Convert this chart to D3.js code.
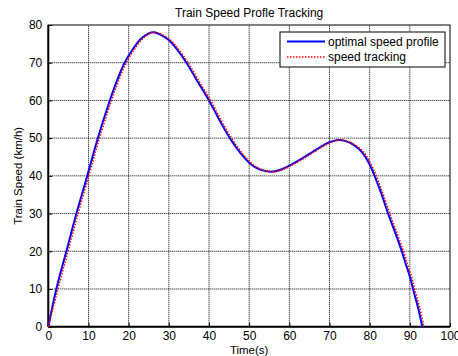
<!DOCTYPE html>
<html>
<head>
<meta charset="utf-8">
<script src="https://cdn.jsdelivr.net/npm/d3@7"></script>
<style>
  body { margin: 0; background: #fff; }
  svg text { font-family: "Liberation Sans", Arial, sans-serif; }
</style>
</head>
<body>
<script>
// optimal speed profile (blue)
var optTime  = [0, 2, 4.5, 7, 9.7, 12.2, 15, 17, 19, 21, 23, 25, 26.2, 28, 30, 32, 34.4, 37, 40, 42.5, 45.2, 48, 50, 52, 54, 55.6, 58, 60, 63, 66, 68, 70, 72.2, 74, 76, 78, 79, 80, 81, 82.8, 84.6, 86.5, 88, 89, 90, 90.8, 92, 93.1]
var optSpeed = [0, 10, 20, 30, 40, 49.5, 59, 65, 70, 73.5, 76.3, 77.8, 78.1, 77.4, 76, 73.6, 70, 65.3, 60, 55, 50, 45.8, 43.5, 42, 41.3, 41.1, 41.7, 42.7, 44.5, 46.5, 47.8, 48.9, 49.5, 49.2, 48.2, 46.4, 44.9, 43, 40.6, 35.6, 30, 24.5, 20, 16.6, 13.3, 10, 5.2, 0]
// speed tracking (red dotted)
var trkTime  = [0, 2.4, 4.9, 7.4, 10.1, 12.6, 15.4, 17.4, 19.4, 21.4, 23.4, 25.4, 26.6, 28.4, 30.4, 32.4, 34.8, 37.4, 40.4, 42.9, 45.6, 48.4, 50.4, 52.4, 54.4, 56, 58.4, 60.4, 63.4, 66.4, 68.4, 70.4, 72.6, 74.4, 76.4, 78.4, 79.4, 80.4, 81.4, 83.2, 85, 86.9, 88.4, 89.4, 90.4, 91.2, 92.4, 93.5]
var trkSpeed = [0, 10, 20, 30, 40, 49.5, 59, 65, 70, 73.5, 76.3, 77.8, 78.1, 77.4, 76, 73.6, 70, 65.3, 60, 55, 50, 45.8, 43.5, 42, 41.3, 41.1, 41.7, 42.7, 44.5, 46.5, 47.8, 48.9, 49.5, 49.2, 48.2, 46.4, 44.9, 43, 40.6, 35.6, 30, 24.5, 20, 16.6, 13.3, 10, 5.2, 0]

var xTicks = [0, 10, 20, 30, 40, 50, 60, 70, 80, 90, 100]
var yTicks = [0, 10, 20, 30, 40, 50, 60, 70, 80]
var legendNames = ['optimal speed profile', 'speed tracking']

var svg = d3.select('body').append('svg')
    .attr('width', 458)
    .attr('height', 356)

var x = d3.scaleLinear().domain([0, 100]).range([48.3, 450])
var y = d3.scaleLinear().domain([0, 80]).range([326.7, 25])

// grid
svg.append('g').selectAll('line')
    .data(xTicks.slice(1, -1))
    .enter().append('line')
    .attr('x1', function (d) { return x(d) }).attr('x2', function (d) { return x(d) })
    .attr('y1', y(0)).attr('y2', y(80))
    .attr('stroke', '#000').attr('stroke-width', 1).attr('stroke-dasharray', '1,1')
svg.append('g').selectAll('line')
    .data(yTicks.slice(1, -1))
    .enter().append('line')
    .attr('x1', x(0)).attr('x2', x(100))
    .attr('y1', function (d) { return y(d) }).attr('y2', function (d) { return y(d) })
    .attr('stroke', '#000').attr('stroke-width', 1).attr('stroke-dasharray', '1,1')

// axes
var xAxis = d3.axisBottom(x).tickValues(xTicks).tickSize(-4).tickPadding(5).tickFormat(d3.format('d'))
var yAxis = d3.axisLeft(y).tickValues(yTicks).tickSize(-4).tickPadding(6).tickFormat(d3.format('d'))
var gx = svg.append('g').attr('transform', 'translate(0,' + y(0) + ')').call(xAxis)
var gy = svg.append('g').attr('transform', 'translate(' + x(0) + ',0)').call(yAxis)
gx.selectAll('text').attr('font-size', 12).attr('fill', '#000')
gy.selectAll('text').attr('font-size', 12).attr('fill', '#000')
gx.select('.domain').remove()
gy.select('.domain').remove()

// box
svg.append('rect')
    .attr('x', x(0)).attr('y', y(80))
    .attr('width', x(100) - x(0)).attr('height', y(0) - y(80))
    .attr('fill', 'none').attr('stroke', '#000').attr('stroke-width', 1)
svg.append('line').attr('x1', x(0)).attr('x2', x(100)).attr('y1', y(0)).attr('y2', y(0))
    .attr('stroke', '#000').attr('stroke-width', 2)
svg.append('line').attr('x1', x(0)).attr('x2', x(0)).attr('y1', y(0)).attr('y2', y(80))
    .attr('stroke', '#000').attr('stroke-width', 2)

// curves
var line = d3.line()
    .x(function (d) { return x(d[0]) })
    .y(function (d) { return y(d[1]) })
    .curve(d3.curveCatmullRom.alpha(0.5))

svg.append('path')
    .datum(optTime.map(function (t, i) { return [t, optSpeed[i]] }))
    .attr('d', line)
    .attr('fill', 'none').attr('stroke', '#0000ff').attr('stroke-width', 2)
svg.append('path')
    .datum(trkTime.map(function (t, i) { return [t, trkSpeed[i]] }))
    .attr('d', line)
    .attr('fill', 'none').attr('stroke', '#ff0000').attr('stroke-width', 1.6)
    .attr('stroke-dasharray', '1.5,1.5')

// title and labels
svg.append('text')
    .attr('x', (x(0) + x(100)) / 2).attr('y', 17)
    .attr('text-anchor', 'middle').attr('font-size', 12)
    .text('Train Speed Profle Tracking')
svg.append('text')
    .attr('x', (x(0) + x(100)) / 2).attr('y', 354)
    .attr('text-anchor', 'middle').attr('font-size', 11.5)
    .text('Time(s)')
svg.append('text')
    .attr('transform', 'translate(22,' + (y(0) + y(80)) / 2 + ') rotate(-90)')
    .attr('text-anchor', 'middle').attr('font-size', 11.5)
    .text('Train Speed (km/h)')

// legend
var lg = svg.append('g')
lg.append('rect')
    .attr('x', 280).attr('y', 32).attr('width', 165).attr('height', 35)
    .attr('fill', '#fff').attr('stroke', '#000').attr('stroke-width', 1)
lg.selectAll('line.key')
    .data(legendNames)
    .enter().append('line')
    .attr('x1', 287).attr('x2', 325)
    .attr('y1', function (d, i) { return 41.5 + i * 15.5 })
    .attr('y2', function (d, i) { return 41.5 + i * 15.5 })
    .attr('stroke', function (d, i) { return i ? '#ff0000' : '#0000ff' })
    .attr('stroke-width', function (d, i) { return i ? 1.6 : 2 })
    .attr('stroke-dasharray', function (d, i) { return i ? '1.5,1.5' : null })
lg.selectAll('text')
    .data(legendNames)
    .enter().append('text')
    .attr('x', 328)
    .attr('y', function (d, i) { return 45.8 + i * 15.5 })
    .attr('font-size', 12)
    .text(function (d) { return d })
</script>
</body>
</html>
